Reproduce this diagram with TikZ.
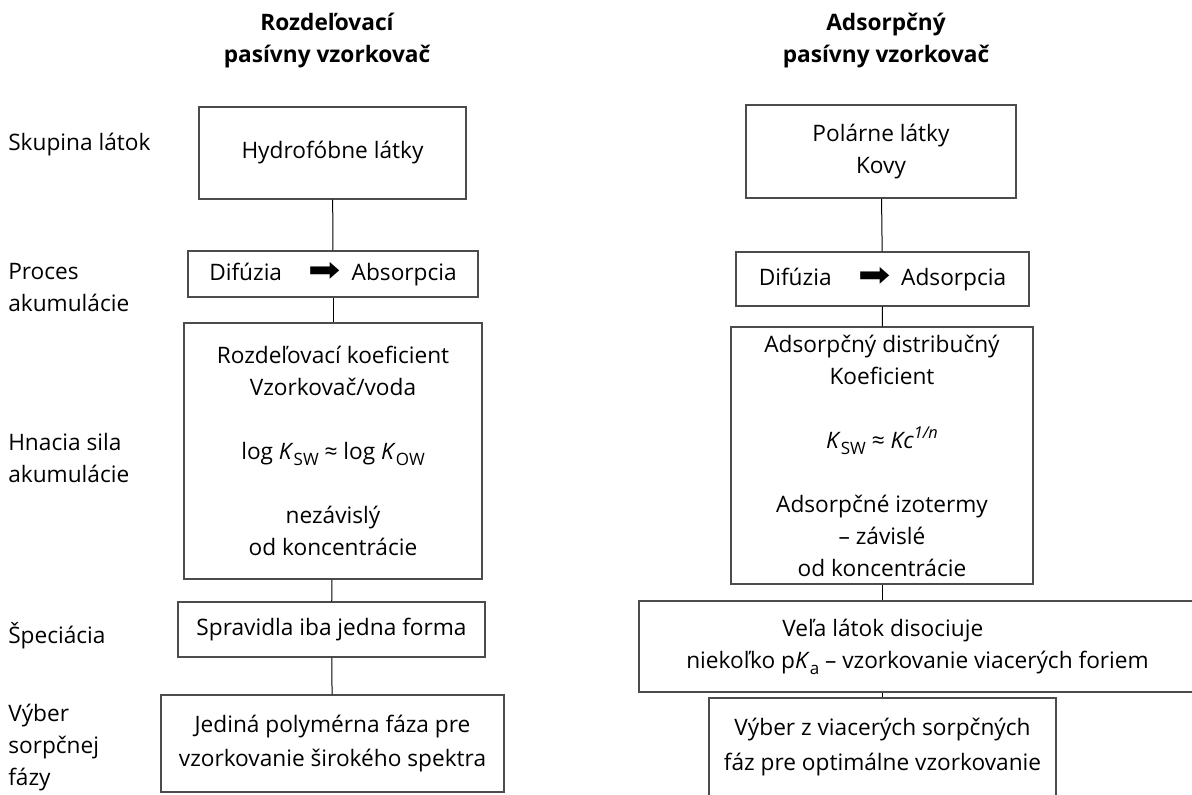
\documentclass[tikz,border=0pt]{standalone}
\usepackage{fontspec}
\setmainfont{Open Sans}
\newfontfamily\symfont{DejaVu Sans}
\newcommand{\lowtxt}[1]{\raisebox{-0.5ex}{\scalebox{0.75}{#1}}}
\newcommand{\hightxt}[1]{\raisebox{0.8ex}{\scalebox{0.72}{#1}}}
\newcommand{\fatarrow}{\hspace{20pt}\raisebox{-0.1ex}{\scalebox{1.7}[1.5]{\symfont ➡}}\hspace{8pt}}

\begin{document}
\begin{tikzpicture}[x=0.75pt,y=0.75pt,yscale=-1,xscale=1,
  every node/.style={font=\fontsize{17}{24}\selectfont},
  box/.style={draw=black!70,line width=0.9pt,align=center,inner sep=0pt},
  rowlabel/.style={anchor=west,align=left,inner sep=0pt},
  coltitle/.style={font=\fontsize{17}{24}\selectfont\bfseries,align=center},
  link/.style={line width=0.75pt}]
\useasboundingbox (0,0) rectangle (1192,794);

% Text Node
\node[coltitle] (titleL) at (327,41) {Rozdeľovací\\pasívny vzorkovač};
% Text Node
\node[coltitle] (titleR) at (886,41) {Adsorpčný\\pasívny vzorkovač};

% Text Node
\node[rowlabel] (lblGroup) at (8,145) {Skupina látok};
% Text Node
\node[rowlabel] (lblProc) at (8,288) {Proces\\akumulácie};
% Text Node
\node[rowlabel] (lblSila) at (8,458) {Hnacia sila\\akumulácie};
% Text Node
\node[rowlabel] (lblSpec) at (8,636) {Špeciácia};
% Text Node
\node[rowlabel] (lblFaza) at (8,748) {Výber\\sorpčnej\\fázy};

%Shape: Rectangle
\node[box,minimum width=200.25pt,minimum height=69pt] (hydro) at (332.5,153) {Hydrofóbne látky};
%Shape: Rectangle
\node[box,minimum width=217.5pt,minimum height=34.5pt] (procL) at (333,274) {Difúzia\fatarrow Absorpcia};
%Shape: Rectangle
\node[box,minimum width=223.5pt,minimum height=192pt] (silaL) at (333,451) {Rozdeľovací koeficient\\Vzorkovač/voda\\[24pt]log \textit{K}\lowtxt{SW} ≈ log \textit{K}\lowtxt{OW}\\[24pt]nezávislý\\od koncentrácie};
%Shape: Rectangle
\node[box,minimum width=230.25pt,minimum height=41.25pt] (specL) at (331.5,629.5) {Spravidla iba jedna forma};
%Shape: Rectangle
\node[box,minimum width=257.25pt,minimum height=72.75pt] (fazaL) at (332.5,743.5) {Jediná polymérna fáza pre\\[2pt]vzorkovanie širokého spektra};

%Shape: Rectangle
\node[box,minimum width=202.5pt,minimum height=69.75pt] (polar) at (881,151.5) {Polárne látky\\Kovy};
%Shape: Rectangle
\node[box,minimum width=219.75pt,minimum height=40.5pt] (procR) at (882.5,279) {Difúzia\fatarrow Adsorpcia};
%Shape: Rectangle
\node[box,minimum width=226.5pt,minimum height=192.75pt] (silaR) at (882,455.5) {Adsorpčný distribučný\\Koeficient\\[24pt]\textit{K}\lowtxt{SW} ≈ \textit{Kc}\hightxt{\textit{1/n}}\\[24pt]Adsorpčné izotermy\\– závislé\hspace*{12pt}\\od koncentrácie};
%Shape: Rectangle
\node[box,minimum width=417.75pt,minimum height=68.25pt] (specR) at (917.5,646.5) {Veľa látok disociuje\hspace*{52pt}\\niekoľko p\textit{K}\lowtxt{a} – vzorkovanie viacerých foriem};
%Shape: Rectangle
\node[box,minimum width=260.25pt,minimum height=73.5pt] (fazaR) at (882.5,747) {Výber z viacerých sorpčných\\[2pt]fáz pre optimálne vzorkovanie};

%Straight Lines
\draw[link] (hydro) -- (procL);
\draw[link] (procL) -- (silaL);
\draw[link] (silaL) -- (specL);
\draw[link] (specL) -- (fazaL);
%Straight Lines
\draw[link] (polar) -- (procR);
\draw[link] (procR) -- (silaR);
\draw[link] (silaR.south) -- (silaR.south |- specR.north);
\draw[link] (fazaR.north) -- (fazaR.north |- specR.south);

\end{tikzpicture}
\end{document}
